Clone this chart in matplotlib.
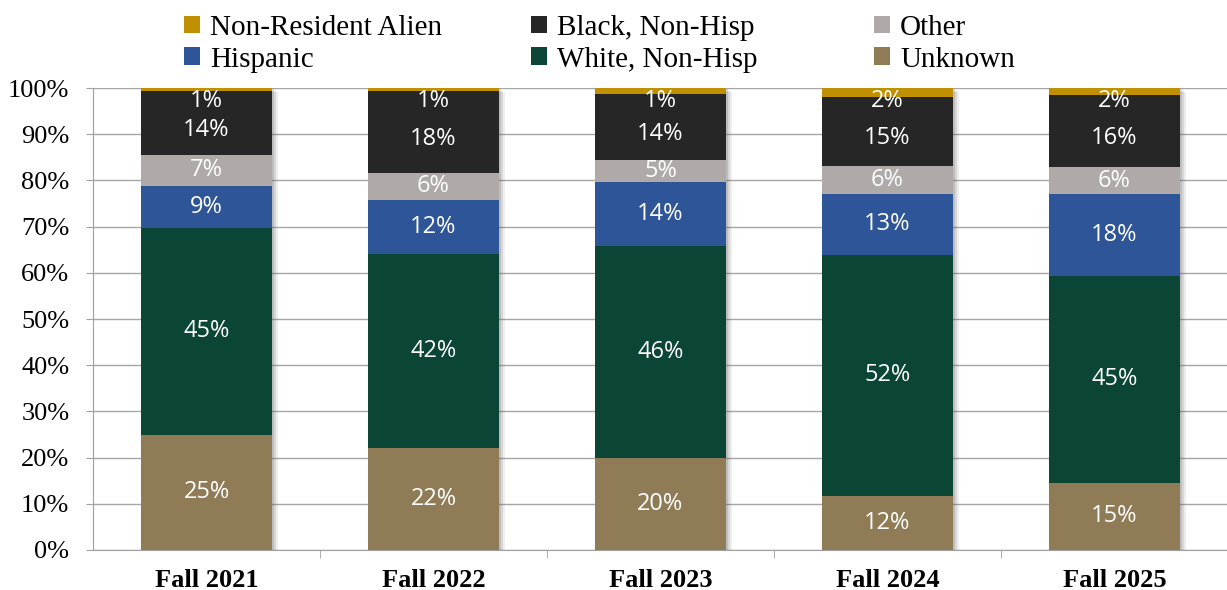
import matplotlib
matplotlib.use("Agg")
import matplotlib.pyplot as plt
import matplotlib.patheffects as pe
import numpy as np

categories = ["Fall 2021", "Fall 2022", "Fall 2023", "Fall 2024", "Fall 2025"]
unknown = [25.0, 22.1, 19.9, 11.7, 14.6]
white = [44.6, 42.0, 45.9, 52.2, 44.8]
hispanic = [9.1, 11.7, 13.9, 13.2, 17.6]
other = [6.9, 5.8, 4.7, 6.0, 5.8]
black = [13.8, 17.8, 14.3, 15.0, 15.6]
nra = [0.6, 0.6, 1.3, 1.9, 1.6]

series = [
    ("Unknown", unknown, "#8F7B55"),
    ("White, Non-Hisp", white, "#0B4536"),
    ("Hispanic", hispanic, "#2E5597"),
    ("Other", other, "#AFAAA8"),
    ("Black, Non-Hisp", black, "#262626"),
    ("Non-Resident Alien", nra, "#C09000"),
]

serif = "Liberation Serif"
labfont = "Open Sans"

fig = plt.figure(figsize=(12.27, 5.9), dpi=100)
ax = fig.add_axes([0.0758, 0.0678, 0.925, 0.783])

x = np.arange(len(categories))
width = 0.577

# soft shadow behind each bar
totals = np.sum([s[1] for s in series], axis=0)
for k, a in [(1.5, 0.22), (3.0, 0.16), (4.5, 0.10)]:
    ax.bar(x, totals, width=width, color="white", zorder=2, linewidth=0,
           path_effects=[pe.SimplePatchShadow(offset=(k, -k * 0.6), shadow_rgbFace="#606060", alpha=a)])

bottom = np.zeros(len(categories))
handles = {}
for name, vals, col in series:
    vals = np.array(vals)
    b = ax.bar(x, vals, width=width, bottom=bottom, color=col, zorder=3, label=name, linewidth=0)
    handles[name] = b
    for i, v in enumerate(vals):
        if name == "Non-Resident Alien":
            y = bottom[i] + v - 2.8
        elif name == "Black, Non-Hisp":
            y = bottom[i] + v / 2 - 1.5
        else:
            y = bottom[i] + v / 2
        ax.text(x[i], y, f"{v:.0f}%", ha="center", va="center", color="white",
                fontsize=17, family=labfont, zorder=5)
    bottom += vals

ax.set_xlim(-0.5, 4.5)
ax.set_ylim(0, 100)
ax.set_yticks(np.arange(0, 101, 10))
ax.set_yticklabels([f"{v}%" for v in range(0, 101, 10)], family=serif, fontsize=19)
ax.set_xticks(x)
ax.set_xticklabels(categories, family=serif, fontsize=19, fontweight="bold")
ax.set_xticks(np.arange(0.5, 4.5, 1), minor=True)
ax.tick_params(axis="x", which="major", length=0, pad=14)
ax.tick_params(axis="x", which="minor", length=6, color="#A0A0A0", direction="out")
ax.tick_params(axis="y", length=5, color="#A0A0A0", pad=12)
ax.grid(axis="y", color="#A6A6A6", linewidth=1, zorder=0)
ax.set_axisbelow(True)
for s in ["top", "right"]:
    ax.spines[s].set_visible(False)
for s in ["left", "bottom"]:
    ax.spines[s].set_color("#A0A0A0")

legend_cols = [["Non-Resident Alien", "Hispanic"],
               ["Black, Non-Hisp", "White, Non-Hisp"],
               ["Other", "Unknown"]]
col_x = [0.1500, 0.4328, 0.7123]
for names, cx in zip(legend_cols, col_x):
    fig.legend([handles[n] for n in names], names, loc="upper left", bbox_to_anchor=(cx, 0.975),
               ncol=1, frameon=False, prop={"family": serif, "size": 21},
               handlelength=0.55, handleheight=0.55, handletextpad=0.35,
               labelspacing=0.2, borderaxespad=0, borderpad=0)

fig.savefig("out.png", dpi=100)
